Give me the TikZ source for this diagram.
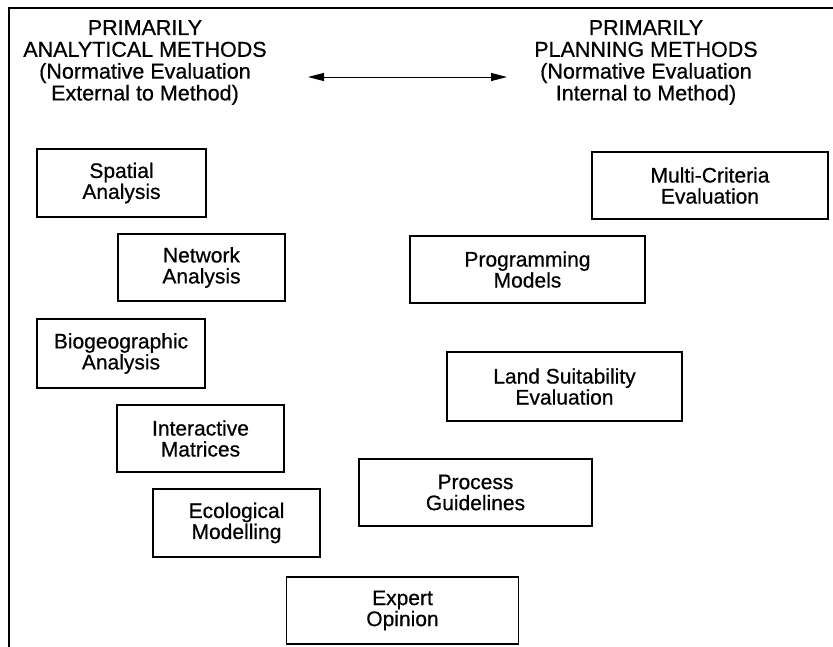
\documentclass[tikz,border=0pt]{standalone}
\usepackage{fontspec}
\setmainfont[FakeBold=0.6]{Liberation Sans}
\newfontfamily\headfont[FakeBold=0.6]{Liberation Sans}
\usetikzlibrary{arrows.meta}
\begin{document}
\begin{tikzpicture}[x=1pt,y=-1pt,
  methodbox/.style={draw,line width=1.2pt,inner sep=0pt,align=center,
    font=\headfont\fontsize{21}{21}\selectfont},
  heading/.style={inner sep=0pt,align=center,anchor=north,
    font=\headfont\fontsize{21.5}{21.8}\selectfont},
  frameline/.style={line width=1.5pt}]
\useasboundingbox (0,0) rectangle (833,646);
% frame
\coordinate (fbl) at (9,647);
\coordinate (ftl) at (9,8);
\coordinate (ftr) at (834,8);
\draw[frameline] (fbl) -- (ftl) -- (ftr);
% headings
\node[heading] (lefthead) at (145,20) {PRIMARILY\\ANALYTICAL METHODS\\(Normative Evaluation\\External to Method)};
\node[heading] (righthead) at (646,20) {PRIMARILY\\PLANNING METHODS\\(Normative Evaluation\\Internal to Method)};
% arrow
\coordinate (al) at (308,77);
\coordinate (ar) at (507,77);
\draw[line width=1pt,{Triangle[length=16pt,width=8pt]}-{Triangle[length=16pt,width=8pt]}] (al) -- (ar);
% left boxes
\node[methodbox,minimum width=169pt,minimum height=68pt] (spatial) at (121.5,183) {Spatial\\Analysis};
\node[methodbox,minimum width=167pt,minimum height=67pt] (network) at (201.5,267.5) {Network\\Analysis};
\node[methodbox,minimum width=168pt,minimum height=69pt] (bio) at (121,353.5) {Biogeographic\\Analysis};
\node[methodbox,minimum width=167pt,minimum height=67pt] (interactive) at (200.5,438.5) {Interactive\\Matrices};
\node[methodbox,minimum width=167pt,minimum height=68pt] (ecological) at (236.5,523) {Ecological\\Modelling};
% bottom / right boxes
\node[methodbox,minimum width=232pt,minimum height=67pt] (expert) at (402.5,610.5) {Expert\\Opinion};
\node[methodbox,minimum width=233pt,minimum height=67pt] (process) at (475.5,492.5) {Process\\Guidelines};
\node[methodbox,minimum width=235pt,minimum height=69pt] (land) at (564.5,386.5) {Land Suitability\\Evaluation};
\node[methodbox,minimum width=235pt,minimum height=67pt] (programming) at (527.5,269.5) {Programming\\Models};
\node[methodbox,minimum width=236pt,minimum height=67pt] (multi) at (710,185.5) {Multi-Criteria\\Evaluation};
\end{tikzpicture}
\end{document}
